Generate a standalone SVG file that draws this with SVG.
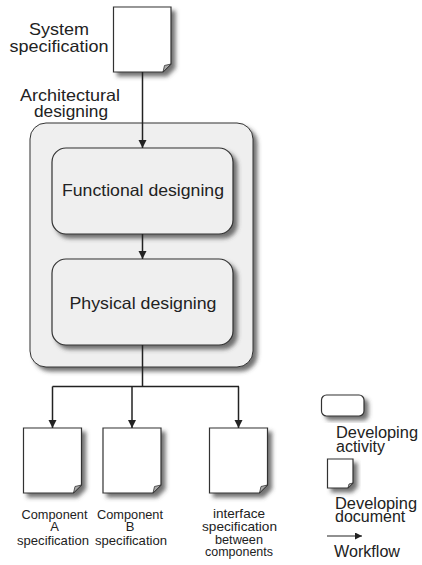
<svg xmlns="http://www.w3.org/2000/svg" width="422" height="565" viewBox="0 0 422 565">
  <style>
    .lbl { font-family: "Liberation Sans", Arial, sans-serif; fill: #222; }
    .big { font-size: 16.5px; }
    .mid { font-size: 16px; }
    .sm { font-size: 13px; }
    .doc { fill: #fff; stroke: #333; stroke-width: 1.2; }
    .fold { fill: #aaa; stroke: #333; stroke-width: 0.8; }
    .act { fill: #efefef; stroke: #333; stroke-width: 1.2; }
    .wire { fill: none; stroke: #222; stroke-width: 1.5; }
  </style>
  <defs>
    <filter id="shadow" x="-20%" y="-20%" width="150%" height="150%">
      <feDropShadow dx="4" dy="4" stdDeviation="2.2" flood-color="#444" flood-opacity="0.75"/>
    </filter>
    <marker id="arrow" viewBox="0 0 10 10" refX="10" refY="5" markerWidth="8" markerHeight="9" markerUnits="userSpaceOnUse" orient="auto">
      <path d="M0,0 L10,5 L0,10 z" fill="#222"/>
    </marker>
    <marker id="arrowSm" viewBox="0 0 10 10" refX="10" refY="5" markerWidth="7" markerHeight="7" markerUnits="userSpaceOnUse" orient="auto">
      <path d="M0,0 L10,5 L0,10 z" fill="#222"/>
    </marker>
  </defs>

  <!-- system specification document -->
  <g id="system-spec">
    <path class="doc" filter="url(#shadow)" d="M113.5,7 H171 V64 L163,72 H113.5 Z"/>
    <path class="fold" d="M171,64 L163,72 L164.5,65.5 Z"/>
    <text class="lbl big" x="59" y="35" text-anchor="middle" textLength="60" lengthAdjust="spacingAndGlyphs">System</text>
    <text class="lbl big" x="59" y="51.5" text-anchor="middle" textLength="99" lengthAdjust="spacingAndGlyphs">specification</text>
  </g>

  <!-- architectural designing container -->
  <g id="architectural">
    <rect class="act" filter="url(#shadow)" x="30" y="123" width="223" height="244" rx="16" ry="16" style="stroke-width:1"/>
    <text class="lbl big" x="70" y="101" text-anchor="middle" textLength="100" lengthAdjust="spacingAndGlyphs">Architectural</text>
    <text class="lbl big" x="71" y="116.5" text-anchor="middle" textLength="74" lengthAdjust="spacingAndGlyphs">designing</text>
  </g>

  <g id="functional">
    <rect class="act" filter="url(#shadow)" x="52" y="148" width="181" height="86" rx="14" ry="14"/>
    <text class="lbl big" x="143" y="196" text-anchor="middle" textLength="162" lengthAdjust="spacingAndGlyphs">Functional designing</text>
  </g>

  <g id="physical">
    <rect class="act" filter="url(#shadow)" x="52" y="259" width="181" height="86" rx="14" ry="14"/>
    <text class="lbl big" x="143" y="308.5" text-anchor="middle" textLength="147" lengthAdjust="spacingAndGlyphs">Physical designing</text>
  </g>

  <!-- output documents -->
  <g id="component-a-spec">
    <path class="doc" filter="url(#shadow)" d="M23.5,428 H81.5 V485 L73.5,493 H23.5 Z"/>
    <path class="fold" d="M81.5,485 L73.5,493 L75,486.5 Z"/>
    <text class="lbl sm" x="54.5" y="518.5" text-anchor="middle" textLength="66" lengthAdjust="spacingAndGlyphs">Component</text>
    <text class="lbl sm" x="54.5" y="531" text-anchor="middle">A</text>
    <text class="lbl sm" x="53" y="544.5" text-anchor="middle" textLength="72" lengthAdjust="spacingAndGlyphs">specification</text>
  </g>

  <g id="component-b-spec">
    <path class="doc" filter="url(#shadow)" d="M103,428 H161 V485 L153,493 H103 Z"/>
    <path class="fold" d="M161,485 L153,493 L154.5,486.5 Z"/>
    <text class="lbl sm" x="130" y="518.5" text-anchor="middle" textLength="66" lengthAdjust="spacingAndGlyphs">Component</text>
    <text class="lbl sm" x="130" y="531" text-anchor="middle">B</text>
    <text class="lbl sm" x="131" y="544.5" text-anchor="middle" textLength="72" lengthAdjust="spacingAndGlyphs">specification</text>
  </g>

  <g id="interface-spec">
    <path class="doc" filter="url(#shadow)" d="M209.5,428 H267.5 V485 L259.5,493 H209.5 Z"/>
    <path class="fold" d="M267.5,485 L259.5,493 L261,486.5 Z"/>
    <text class="lbl sm" x="239" y="518" text-anchor="middle" textLength="52" lengthAdjust="spacingAndGlyphs">interface</text>
    <text class="lbl sm" x="239.5" y="530.5" text-anchor="middle" textLength="75" lengthAdjust="spacingAndGlyphs">specification</text>
    <text class="lbl sm" x="239" y="543.5" text-anchor="middle" textLength="48" lengthAdjust="spacingAndGlyphs">between</text>
    <text class="lbl sm" x="239" y="556" text-anchor="middle" textLength="68" lengthAdjust="spacingAndGlyphs">components</text>
  </g>

  <!-- legend -->
  <g id="legend-activity">
    <rect class="act" filter="url(#shadow)" x="321.5" y="395" width="42.5" height="21" rx="5" ry="5" style="fill:#fff"/>
    <text class="lbl mid" x="336" y="437.5" textLength="82" lengthAdjust="spacingAndGlyphs">Developing</text>
    <text class="lbl mid" x="336" y="451.5">activity</text>
  </g>

  <g id="legend-document">
    <path class="doc" filter="url(#shadow)" d="M327.5,459 H353 V483 L348,488 H327.5 Z"/>
    <path class="fold" d="M353,483 L348,488 L349,484 Z"/>
    <text class="lbl mid" x="335" y="508.5" textLength="82" lengthAdjust="spacingAndGlyphs">Developing</text>
    <text class="lbl mid" x="335" y="522">document</text>
  </g>

  <g id="legend-workflow">
    <path class="wire" style="stroke-width:1.2" d="M327,536 H362" marker-end="url(#arrowSm)"/>
    <text class="lbl mid" x="334" y="557" textLength="66" lengthAdjust="spacingAndGlyphs">Workflow</text>
  </g>

  <!-- workflow connectors -->
  <g id="connectors">
    <path class="wire" d="M142.5,72 V148" marker-end="url(#arrow)"/>
    <path class="wire" d="M142.5,234 V259" marker-end="url(#arrow)"/>
    <path class="wire" d="M142.5,345 V386.5"/>
    <path class="wire" d="M52.5,386.5 H239"/>
    <path class="wire" d="M52.5,386.5 V428" marker-end="url(#arrow)"/>
    <path class="wire" d="M132,386.5 V428" marker-end="url(#arrow)"/>
    <path class="wire" d="M238.5,386.5 V428" marker-end="url(#arrow)"/>
  </g>
</svg>
